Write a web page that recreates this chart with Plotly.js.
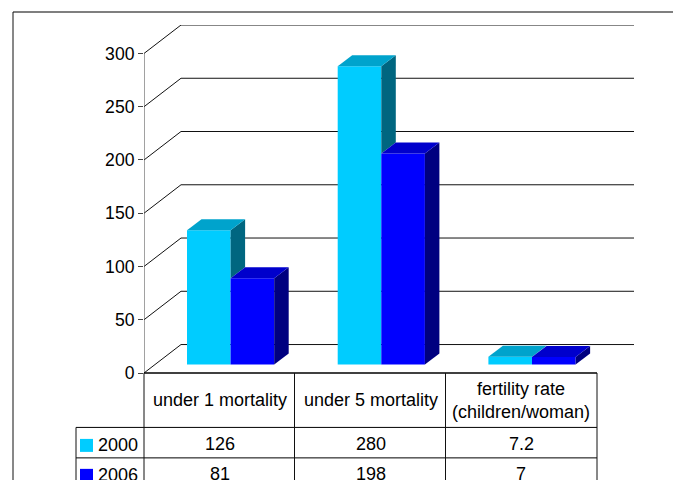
<!DOCTYPE html>
<html>
<head>
<meta charset="utf-8">
<script src="https://cdn.plot.ly/plotly-3.0.1.min.js"></script>
<style>html,body{margin:0;padding:0;background:#fff;overflow:hidden}</style>
</head>
<body>
<div id="chart" style="width:673px;height:480px"></div>
<script>
var categories = ["under 1 mortality", "under 5 mortality", "fertility rate<br>(children/woman)"];
var seriesNames = ["2000", "2006"];
var values2000 = [126, 280, 7.2];
var values2006 = [81, 198, 7];
var tableText2000 = ["126", "280", "7.2"];
var tableText2006 = ["81", "198", "7"];
var yTicks = [0, 50, 100, 150, 200, 250, 300];

var frontColors = ["#00CCFF", "#0000FF"];
var topColors = ["#00A3CC", "#0000CC"];
var sideColors = ["#006680", "#000080"];

// plot geometry (pixels)
var L = 144, R = 634, T = 24.5, B = 373;
var catW = 150.7, pxPerUnit = 320 / 300;
var xRange = [0, (R - L) / catW], yRange = [0, (B - T) / pxPerUnit];
// depth of the wall and of the bars, in data units
var wallDx = 37 / catW, wallDy = 28.5 / pxPerUnit;
var barDx = 14.5 / catW, barDy = 11 / pxPerUnit;
var floor = 8.6 / pxPerUnit;
var barW = 43.6 / catW, barStart = 43 / catW;

function px(x) { return (x - L) / (R - L); }
function py(y) { return (B - y) / (B - T); }

var traces = [], shapes = [], annotations = [];
var series = [values2000, values2006];

series.forEach(function (vals, s) {
  traces.push({
    type: "bar", name: seriesNames[s],
    x: vals.map(function (v, i) { return i + barStart + barW * (s + 0.5); }),
    y: vals, base: vals.map(function () { return floor; }),
    width: barW,
    marker: { color: frontColors[s], line: { width: 0 } },
    hoverinfo: "skip", showlegend: false
  });
});

function poly(xs, ys, color) {
  traces.push({
    type: "scatter", mode: "lines", fill: "toself", fillcolor: color,
    x: xs.concat(xs[0]), y: ys.concat(ys[0]),
    line: { width: 0, color: color }, hoverinfo: "skip", showlegend: false
  });
}

series.forEach(function (vals, s) {
  vals.forEach(function (v, i) {
    var x0 = i + barStart + barW * s, x1 = x0 + barW, top = floor + v;
    // side face stops where the next series' top face covers it
    var low = floor;
    if (s === 0) low = Math.min(top, floor + series[1][i]);
    poly([x1, x1 + barDx, x1 + barDx, x1], [top, top + barDy, low + barDy, low], sideColors[s]);
    poly([x0, x0 + barDx, x1 + barDx, x1], [top, top + barDy, top + barDy, top], topColors[s]);
  });
});

// wall gridlines with their diagonals
yTicks.forEach(function (t) {
  var path = "M 0 " + t + " L " + wallDx + " " + (t + wallDy) + " L " + xRange[1] + " " + (t + wallDy);
  shapes.push({ type: "path", layer: "below", xref: "x", yref: "y", path: path, line: { color: "#111", width: 1 } });
});
// value axis line
shapes.push({ type: "line", layer: "below", xref: "x", yref: "y", x0: 0, x1: 0, y0: 0, y1: 300, line: { color: "#444", width: 1 } });

function hline(x0, x1, y, w) {
  shapes.push({ type: "line", xref: "paper", yref: "paper", x0: px(x0), x1: px(x1), y0: py(y), y1: py(y), line: { color: "#000", width: w || 1 } });
}
function vline(x, y0, y1) {
  shapes.push({ type: "line", xref: "paper", yref: "paper", x0: px(x), x1: px(x), y0: py(y0), y1: py(y1), line: { color: "#111", width: 1 } });
}
// outer frame
hline(13, 690, 11.5, 1.2);
vline(13, 11.5, 490);
// data table
hline(144, 597, 373, 1.6);
hline(76, 597, 427.5);
hline(76, 597, 458);
vline(76, 427.5, 490);
[144, 294.5, 445.5, 597].forEach(function (x) { vline(x, 373, 490); });

var font = { family: "Liberation Sans, Arial, sans-serif", size: 18, color: "#000" };
var tickFont = { family: "Liberation Sans, Arial, sans-serif", size: 17.6, color: "#000" };
function label(text, x, y) {
  annotations.push({ text: text, xref: "paper", yref: "paper", x: px(x), y: py(y), xanchor: "center", yanchor: "middle", showarrow: false, align: "center", font: font });
}
var colCenters = [219.5, 370.5, 521];
var headerRows = [400, 400, 400.8];
categories.forEach(function (c, i) { label(c, colCenters[i], headerRows[i]); });
tableText2000.forEach(function (c, i) { label(c, colCenters[i], 444); });
tableText2006.forEach(function (c, i) { label(c, colCenters[i], 474); });
label(seriesNames[0], 118, 445);
label(seriesNames[1], 118, 475);
[[439, 452], [469, 482]].forEach(function (r, s) {
  shapes.push({ type: "rect", xref: "paper", yref: "paper", x0: px(80), x1: px(93), y0: py(r[0]), y1: py(r[1]), fillcolor: frontColors[s], line: { width: 0 } });
});

Plotly.newPlot("chart", traces, {
  width: 673, height: 480,
  margin: { l: L, r: 673 - R, t: T, b: 480 - B, pad: 0 },
  paper_bgcolor: "#fff", plot_bgcolor: "rgba(0,0,0,0)",
  barmode: "overlay", showlegend: false,
  xaxis: { range: xRange, showgrid: false, zeroline: false, showline: false, showticklabels: false, ticks: "", fixedrange: true },
  yaxis: { range: yRange, tickmode: "array", tickvals: yTicks, ticktext: yTicks.map(String), showgrid: false, zeroline: false, showline: false,
    ticks: "outside", ticklen: 5, tickcolor: "#444", tickwidth: 1, tickfont: tickFont, fixedrange: true },
  shapes: shapes, annotations: annotations
}, { displayModeBar: false, staticPlot: true });
</script>
</body>
</html>
